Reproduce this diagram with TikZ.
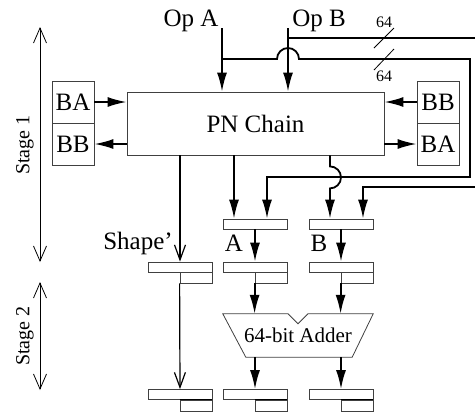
\documentclass[tikz,border=0pt]{standalone}
\usepackage{fontspec}
\setmainfont{Liberation Serif}
\usetikzlibrary{arrows.meta}

\begin{document}
\begin{tikzpicture}[x=1pt, y=-1pt,
  lbl/.style={font=\fontsize{25}{30}\selectfont, inner sep=0pt},
  tiny/.style={font=\fontsize{16}{19}\selectfont, inner sep=0pt},
  stagelbl/.style={font=\fontsize{20}{24}\selectfont, inner sep=0pt, rotate=90},
  box/.style={draw=black!75, line width=0.8pt},
  cell/.style={box, minimum width=42pt, minimum height=42pt, inner sep=0pt,
               font=\fontsize{25}{30}\selectfont},
  reg/.style={box, minimum width=64pt, minimum height=10pt, inner sep=0pt},
  reglo/.style={box, minimum width=32pt, minimum height=11pt, inner sep=0pt},
  wire/.style={line width=1.8pt},
  arr/.style={wire, -{Latex[length=19pt,width=10pt]}},
  thinarr/.style={line width=1.2pt, -{Straight Barb[length=15pt,width=11pt]}},
  stage/.style={line width=0.8pt,
    {Straight Barb[length=15pt,width=13pt]}-{Straight Barb[length=15pt,width=13pt]}}
]
  \useasboundingbox (0,0) rectangle (475,413);
  \clip (0,0) rectangle (475,413);

  \node[cell] (bal) at (73,102) {BA};
  \node[cell] (bbl) at (73,144) {BB};
  \node[box, minimum width=257pt, minimum height=63pt, inner sep=0pt,
        font=\fontsize{25}{30}\selectfont] (pn) at (255.5,123.5) {PN Chain};
  \node[cell] (bbr) at (438,102) {BB};
  \node[cell] (bar) at (438,144) {BA};

  \draw[arr] (bal.east) -- (bal.east -| pn.west);
  \draw[arr] (pn.west |- bbl.east) -- (bbl.east);
  \draw[arr] (bbr.west) -- (bbr.west -| pn.east);
  \draw[arr] (pn.east |- bar.west) -- (bar.west);

  \node[lbl] (opa) at (191,21) {Op A};
  \node[lbl] (opb) at (319,21) {Op B};
  \coordinate (ina) at (222,28);
  \coordinate (inb) at (288,28);
  \coordinate (ja) at (222,59);
  \coordinate (jb) at (288,38);
  \draw[arr] (ina) -- (ina |- pn.north);
  \draw[arr] (inb) -- (inb |- pn.north);

  \node[reg] (ra) at (255,224) {};
  \node[reg] (rb) at (341,224) {};
  \node[lbl] (la) at (234,243) {A};
  \node[lbl] (lb) at (319,243) {B};
  \node[lbl] (lsh) at (138,243) {Shape'};

  \draw[arr] (ja) -- (277,59) arc[start angle=180, end angle=0, radius=11pt]
    -- (470,59) -- (470,177) -- ([xshift=12pt]ra.north |- 0,177) -- ([xshift=12pt]ra.north);
  \draw[arr] (jb) -- (480,38) -- (480,187) -- ([xshift=22pt]rb.north |- 0,187)
    -- ([xshift=22pt]rb.north);
  \draw[arr] ([xshift=-21pt]ra.north |- pn.south) -- ([xshift=-21pt]ra.north);
  \draw[arr] ([xshift=-11pt]rb.north |- pn.south) -- ++(0,11)
    arc[start angle=90, end angle=-90, radius=11pt] -- ([xshift=-11pt]rb.north);

  \draw[line width=0.8pt] (374,48) -- (394,28);
  \draw[line width=0.8pt] (374,70) -- (394,49);
  \node[tiny] (w1) at (384,22) {64};
  \node[tiny] (w2) at (384,76) {64};

  \node[reg] (ps) at (180,267) {};
  \node[reglo] (ps-lo) at (196,277.5) {};
  \node[reg] (pa) at (255,267) {};
  \node[reglo] (pa-lo) at (271,277.5) {};
  \node[reg] (pb) at (341,267) {};
  \node[reglo] (pb-lo) at (357,277.5) {};

  \node[reg] (os) at (180,394.5) {};
  \node[reglo] (os-lo) at (196,405.5) {};
  \node[reg] (oa) at (255,394.5) {};
  \node[reglo] (oa-lo) at (271,405.5) {};
  \node[reg] (ob) at (341,394.5) {};
  \node[reglo] (ob-lo) at (357,405.5) {};
  \draw[line width=1.6pt] (os-lo.north west) -- (os-lo.north east);
  \draw[line width=1.6pt] (oa-lo.north west) -- (oa-lo.north east);
  \draw[line width=1.6pt] (ob-lo.north west) -- (ob-lo.north east);

  \draw[thinarr] (pn.south -| ps.north) -- (ps.north);
  \draw[arr] (ra.south) -- (pa.north);
  \draw[arr] (rb.south) -- (pb.north);
  \draw[thinarr] (ps-lo.south west) -- (os.north);

  \node[minimum width=150pt, minimum height=43pt, inner sep=0pt,
        font=\fontsize{21}{25}\selectfont] (add) at (298,335.5) {64-bit Adder};
  \draw[box] (add.north west) -- ([xshift=-10pt]add.north) -- ([yshift=-10pt]add.north)
    -- ([xshift=10pt]add.north) -- (add.north east) -- ([xshift=-21pt]add.south east)
    -- ([xshift=23pt]add.south west) -- cycle;
  \draw[arr] (pa-lo.south west) -- (pa-lo.south west |- add.north);
  \draw[arr] (pb-lo.south west) -- (pb-lo.south west |- add.north);
  \draw[arr] (add.south -| oa.north) -- (oa.north);
  \draw[arr] (add.south -| ob.north) -- (ob.north);

  \coordinate (s1t) at (40,27);
  \coordinate (s1b) at (40,262);
  \coordinate (s2t) at (40,282);
  \coordinate (s2b) at (40,390);
  \draw[stage] (s1t) -- (s1b);
  \draw[stage] (s2t) -- (s2b);
  \node[stagelbl] (st1) at (25,145) {Stage 1};
  \node[stagelbl] (st2) at (25,336) {Stage 2};
\end{tikzpicture}
\end{document}
